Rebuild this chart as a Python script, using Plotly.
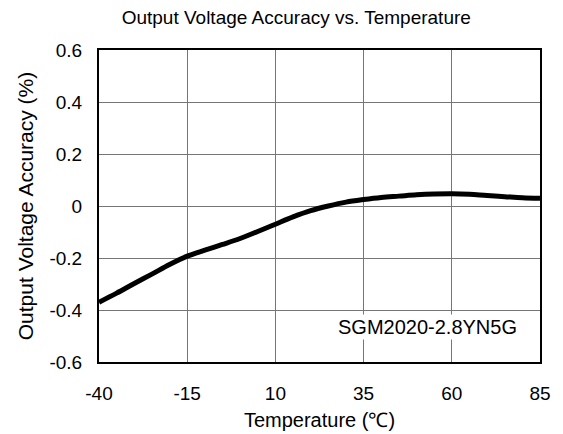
import plotly.graph_objects as go

temperature = [-40, -35, -30, -25, -20, -15, -10, -5, 0, 5, 10, 15, 20, 25, 30, 35, 40, 45, 50, 55, 60, 65, 70, 75, 80, 85]
accuracy = [-0.37, -0.335, -0.298, -0.262, -0.225, -0.193, -0.17, -0.148, -0.125, -0.098, -0.07, -0.042, -0.018, 0.0,
            0.015, 0.025, 0.033, 0.038, 0.043, 0.046, 0.047, 0.045, 0.04, 0.036, 0.032, 0.03]
x_ticks = [-40, -15, 10, 35, 60, 85]
x_tick_labels = ["-40", "-15", "10", "35", "60", "85"]
y_ticks = [-0.6, -0.4, -0.2, 0, 0.2, 0.4, 0.6]
y_tick_labels = ["-0.6", "-0.4", "-0.2", "0", "0.2", "0.4", "0.6"]

font_family = "Liberation Sans, Arial, sans-serif"

fig = go.Figure()
fig.add_trace(go.Scatter(x=temperature, y=accuracy, mode="lines",
                         line=dict(color="black", width=5, shape="spline"),
                         showlegend=False))

fig.update_layout(
    width=563, height=434,
    margin=dict(l=91, r=31, t=42, b=80),
    paper_bgcolor="white", plot_bgcolor="white",
    font=dict(family=font_family, size=19, color="black"),
    title=dict(text="Output Voltage Accuracy vs. Temperature", x=0.512, xanchor="center",
               y=1 - 9 / 434, yanchor="middle", font=dict(size=19)),
    xaxis=dict(range=[-40, 85], tickvals=x_ticks, ticktext=x_tick_labels, showgrid=True,
               gridcolor="#767676", gridwidth=1,
               showline=True, linecolor="black", linewidth=2, mirror=True, zeroline=False,
               ticks="", ticklabelstandoff=13, tickfont=dict(size=19),
               title=dict(text="Temperature (℃)", standoff=10, font=dict(size=20))),
    yaxis=dict(range=[-0.6, 0.6], tickvals=y_ticks, ticktext=y_tick_labels, showgrid=True,
               gridcolor="#767676", gridwidth=1, showline=True, linecolor="black", linewidth=2,
               mirror=True, zeroline=False, ticks="", ticklabelstandoff=11, tickfont=dict(size=19),
               title=dict(text="Output Voltage Accuracy (%)", standoff=10, font=dict(size=21))),
    annotations=[dict(text="SGM2020-2.8YN5G", x=0.953, y=0.112, xref="paper", yref="paper",
                      xanchor="right", yanchor="middle", showarrow=False, bgcolor="white",
                      font=dict(size=20))],
)

fig.write_html("out.html")
